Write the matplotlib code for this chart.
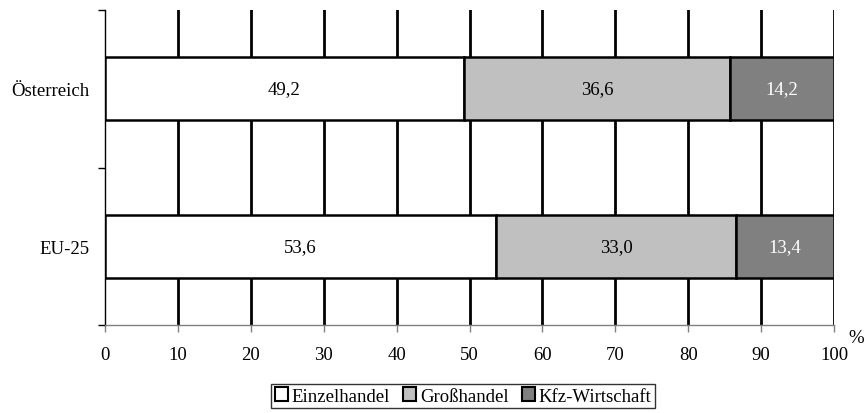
import matplotlib
matplotlib.use("Agg")
import matplotlib.pyplot as plt
from matplotlib.patches import Patch

plt.rcParams['font.family'] = ['Liberation Serif', 'DejaVu Serif']

countries = ["Österreich", "EU-25"]
segments = ["Einzelhandel", "Großhandel", "Kfz-Wirtschaft"]
values = {
    "Einzelhandel": [49.2, 53.6],
    "Großhandel": [36.6, 33.0],
    "Kfz-Wirtschaft": [14.2, 13.4],
}
colors = ["#ffffff", "#c0c0c0", "#808080"]
text_colors = ["black", "black", "white"]
xticks = [0, 10, 20, 30, 40, 50, 60, 70, 80, 90, 100]
FS = 13.5

fig = plt.figure(figsize=(8.68, 4.14), dpi=100)
ax = fig.add_axes([105 / 868, 1 - 326 / 414, (834 - 105) / 868, (326 - 11) / 414])

ypos = [1.5, 0.5]
ax.set_ylim(0, 2)
ax.set_xlim(0, 100)

# vertical grid lines
for x in xticks[1:]:
    ax.axvline(x, color="black", lw=2, zorder=1)

left = [0.0, 0.0]
for seg, col, tc in zip(segments, colors, text_colors):
    vals = values[seg]
    ax.barh(ypos, vals, left=left, height=0.4, color=col, edgecolor="black",
            linewidth=1.8, zorder=3)
    for y, l, v in zip(ypos, left, vals):
        ax.text(l + v / 2, y, f"{v:.1f}".replace(".", ","), ha="center", va="center",
                fontsize=FS, color=tc, zorder=4)
    left = [a + b for a, b in zip(left, vals)]

ax.set_xticks(xticks)
ax.set_xticklabels([str(t) for t in xticks], fontsize=FS)
ax.tick_params(axis="x", length=5, width=1, color="#808080", pad=10)

ax.set_yticks(ypos)
ax.set_yticklabels(countries, fontsize=FS)
ax.set_yticks([0, 1, 2], minor=True)
ax.tick_params(axis="y", which="major", length=0, pad=11)
ax.tick_params(axis="y", which="minor", length=5, width=1, color="black")

for s in ["top", "right"]:
    ax.spines[s].set_visible(False)
ax.spines["left"].set_color("black")
ax.spines["left"].set_linewidth(1)
ax.spines["bottom"].set_color("#808080")
ax.spines["bottom"].set_linewidth(1)

fig.text(856 / 868, 1 - 339 / 414, "%", fontsize=FS, ha="center", va="center")

handles = [Patch(facecolor=c, edgecolor="black", linewidth=1.5) for c in colors]
leg = fig.legend(handles, segments, loc="center", bbox_to_anchor=(463 / 868, 1 - 397 / 414),
                 ncol=3, fontsize=FS, frameon=True, fancybox=False, handlelength=0.7,
                 handleheight=0.7, handletextpad=0.2, columnspacing=0.7,
                 borderpad=0.2, edgecolor="black", borderaxespad=0)
leg.get_frame().set_linewidth(1)

fig.savefig("out.png", dpi=100, facecolor="white")
